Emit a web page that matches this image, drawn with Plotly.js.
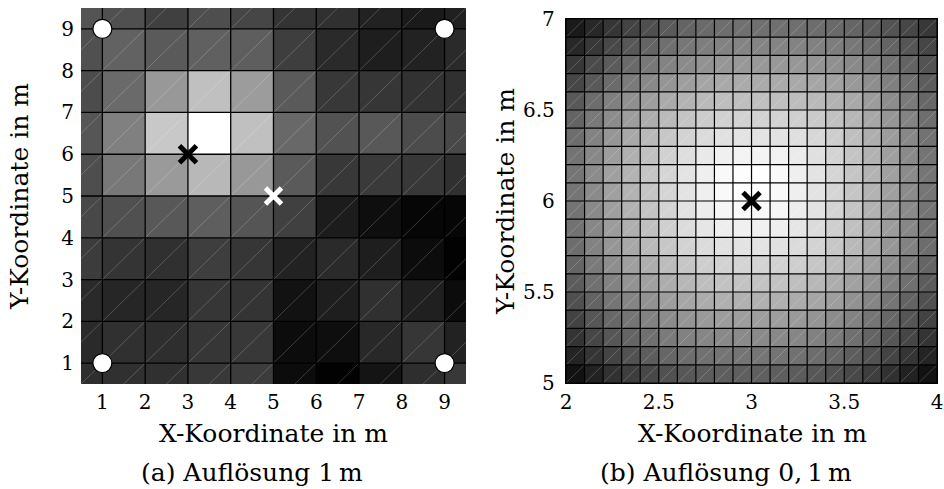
<!DOCTYPE html>
<html>
<head>
<meta charset="utf-8">
<script src="https://cdn.plot.ly/plotly-3.0.1.min.js"></script>
<style>html,body{margin:0;padding:0;background:#fff;}#chart{width:944px;height:489px;}</style>
</head>
<body>
<div id="chart"></div>
<script>
// ---------- data: panel (a) 1 m resolution ----------
const xEdgesA = [0, 1, 2, 3, 4, 5, 6, 7, 8, 9, 10];
const yEdgesA = [0, 1, 2, 3, 4, 5, 6, 7, 8, 9, 10];
// grey level per cell, rows from bottom (y 0-1) to top (y 9-10)
const gridA = [
  [46, 48, 48, 56, 60, 12, 2, 20, 46, 56],
  [42, 48, 46, 54, 56, 12, 14, 40, 54, 34],
  [42, 38, 38, 54, 52, 18, 30, 48, 32, 12],
  [60, 52, 48, 62, 54, 34, 42, 30, 12, 2],
  [72, 80, 88, 94, 85, 64, 28, 14, 6, 6],
  [78, 120, 154, 184, 152, 90, 56, 58, 56, 48],
  [86, 128, 200, 255, 192, 104, 82, 88, 76, 72],
  [76, 106, 152, 192, 156, 90, 56, 54, 50, 48],
  [80, 98, 90, 96, 94, 62, 42, 30, 34, 42],
  [84, 80, 64, 78, 70, 52, 48, 34, 26, 32]
];
const ticksA = [1, 2, 3, 4, 5, 6, 7, 8, 9];
const anchorX = [1, 1, 9, 9];
const anchorY = [1, 9, 1, 9];
const trueX = [3];
const trueY = [6];
const estX = [5];
const estY = [5];

// ---------- data: panel (b) 0.1 m resolution ----------
const xEdgesB = [2.0, 2.1, 2.2, 2.3, 2.4, 2.5, 2.6, 2.7, 2.8, 2.9, 3.0, 3.1, 3.2, 3.3, 3.4, 3.5, 3.6, 3.7, 3.8, 3.9, 4.0];
const yEdgesB = [5.0, 5.1, 5.2, 5.3, 5.4, 5.5, 5.6, 5.7, 5.8, 5.9, 6.0, 6.1, 6.2, 6.3, 6.4, 6.5, 6.6, 6.7, 6.8, 6.9, 7.0];
const gridB = [
  [18, 34, 49, 62, 72, 81, 87, 92, 94, 95, 95, 94, 92, 87, 81, 72, 62, 49, 34, 18],
  [36, 53, 68, 82, 93, 102, 109, 113, 116, 117, 117, 116, 113, 109, 102, 93, 82, 68, 53, 36],
  [52, 70, 86, 100, 112, 122, 129, 134, 137, 138, 138, 137, 134, 129, 122, 112, 100, 86, 70, 52],
  [67, 86, 103, 117, 130, 140, 148, 154, 157, 158, 158, 157, 154, 148, 140, 130, 117, 103, 86, 67],
  [80, 99, 117, 133, 146, 158, 166, 172, 176, 177, 177, 176, 172, 166, 158, 146, 133, 117, 99, 80],
  [92, 112, 130, 147, 161, 173, 183, 190, 194, 195, 195, 194, 190, 183, 173, 161, 147, 130, 112, 92],
  [101, 122, 142, 159, 174, 188, 198, 206, 210, 212, 212, 210, 206, 198, 188, 174, 159, 142, 122, 101],
  [109, 130, 150, 168, 185, 199, 211, 219, 225, 227, 227, 225, 219, 211, 199, 185, 168, 150, 130, 109],
  [114, 135, 156, 175, 192, 207, 220, 230, 238, 240, 240, 238, 230, 220, 207, 192, 175, 156, 135, 114],
  [116, 138, 159, 178, 196, 212, 226, 237, 246, 250, 250, 246, 237, 226, 212, 196, 178, 159, 138, 116],
  [117, 139, 160, 179, 197, 213, 227, 239, 249, 254, 254, 249, 239, 227, 213, 197, 179, 160, 139, 117],
  [117, 139, 160, 179, 197, 213, 227, 239, 249, 253, 254, 249, 239, 227, 213, 197, 179, 160, 139, 117],
  [115, 136, 157, 176, 193, 209, 222, 233, 240, 243, 243, 242, 235, 224, 211, 196, 178, 159, 138, 116],
  [109, 130, 150, 168, 185, 199, 211, 219, 225, 227, 227, 226, 223, 215, 205, 191, 174, 156, 136, 114],
  [100, 121, 140, 157, 173, 186, 196, 204, 209, 210, 210, 210, 207, 202, 193, 182, 167, 150, 131, 110],
  [89, 109, 128, 144, 158, 170, 179, 186, 190, 191, 191, 191, 189, 185, 178, 169, 156, 140, 122, 103],
  [70, 89, 107, 123, 137, 149, 158, 165, 169, 171, 171, 171, 169, 166, 161, 153, 142, 128, 112, 93],
  [56, 74, 91, 106, 120, 131, 139, 146, 150, 152, 152, 152, 151, 148, 144, 137, 127, 115, 100, 83],
  [40, 56, 72, 87, 100, 111, 119, 126, 130, 132, 132, 132, 131, 129, 125, 119, 110, 100, 86, 70],
  [26, 40, 54, 67, 79, 90, 100, 106, 110, 112, 112, 112, 111, 109, 106, 101, 93, 83, 71, 56]
];
const ticksXB = [2, 2.5, 3, 3.5, 4];
const ticksYB = [5, 5.5, 6, 6.5, 7];
const trueXB = [3];
const trueYB = [6];

// ---------- helpers (derive decoration lines from the cell edges) ----------
function cellDiagonals(xe, ye) {
  const x = [], y = [];
  for (let j = 0; j < ye.length - 1; j++) {
    for (let i = 0; i < xe.length - 1; i++) {
      x.push(xe[i], xe[i + 1], null);
      y.push(ye[j], ye[j + 1], null);
    }
  }
  return {x, y};
}
function cellBorders(xe, ye) {
  const x = [], y = [];
  const y0 = ye[0], y1 = ye[ye.length - 1], x0 = xe[0], x1 = xe[xe.length - 1];
  xe.forEach(v => { x.push(v, v, null); y.push(y0, y1, null); });
  ye.forEach(v => { x.push(x0, x1, null); y.push(v, v, null); });
  return {x, y};
}

const FONT = '"DejaVu Serif", "Liberation Serif", serif';
const grey = [[0, '#000000'], [1, '#ffffff']];

const dA = cellDiagonals(xEdgesA, yEdgesA);
const bA = cellBorders(xEdgesA, yEdgesA);
const dB = cellDiagonals(xEdgesB, yEdgesB);
const bB = cellBorders(xEdgesB, yEdgesB);

const diagStyle = {color: 'rgba(255,255,255,0.25)', width: 0.8};
const borderStyle = {color: '#000000', width: 1.3};

const traces = [
  {type: 'heatmap', x: xEdgesA, y: yEdgesA, z: gridA, colorscale: grey, zmin: 0, zmax: 255,
   showscale: false, hoverinfo: 'skip', xaxis: 'x', yaxis: 'y'},
  {type: 'scatter', mode: 'lines', x: dA.x, y: dA.y, line: diagStyle, hoverinfo: 'skip', xaxis: 'x', yaxis: 'y'},
  {type: 'scatter', mode: 'lines', x: bA.x, y: bA.y, line: borderStyle, hoverinfo: 'skip', xaxis: 'x', yaxis: 'y'},
  {type: 'scatter', mode: 'markers', x: anchorX, y: anchorY, cliponaxis: false,
   marker: {symbol: 'circle', size: 19, color: '#ffffff', line: {color: '#000000', width: 1.2}},
   hoverinfo: 'skip', xaxis: 'x', yaxis: 'y'},
  {type: 'scatter', mode: 'markers', x: trueX, y: trueY,
   marker: {symbol: 'x-thin', size: 17, color: '#000000', line: {color: '#000000', width: 5}},
   hoverinfo: 'skip', xaxis: 'x', yaxis: 'y'},
  {type: 'scatter', mode: 'markers', x: estX, y: estY,
   marker: {symbol: 'x-thin', size: 16, color: '#ffffff', line: {color: '#ffffff', width: 5}},
   hoverinfo: 'skip', xaxis: 'x', yaxis: 'y'},

  {type: 'heatmap', x: xEdgesB, y: yEdgesB, z: gridB, colorscale: grey, zmin: 0, zmax: 255,
   showscale: false, hoverinfo: 'skip', xaxis: 'x2', yaxis: 'y2'},
  {type: 'scatter', mode: 'lines', x: dB.x, y: dB.y, line: diagStyle, hoverinfo: 'skip', xaxis: 'x2', yaxis: 'y2'},
  {type: 'scatter', mode: 'lines', x: bB.x, y: bB.y, line: {color: '#000000', width: 1.2}, hoverinfo: 'skip', xaxis: 'x2', yaxis: 'y2'},
  {type: 'scatter', mode: 'markers', x: trueXB, y: trueYB,
   marker: {symbol: 'x-thin', size: 17, color: '#000000', line: {color: '#000000', width: 5}},
   hoverinfo: 'skip', xaxis: 'x2', yaxis: 'y2'}
];

const tickFont = {family: FONT, size: 20, color: '#000'};
const titleFont = {family: FONT, size: 25, color: '#000'};
const axBase = {showgrid: false, zeroline: false, ticks: '', showline: false, tickfont: tickFont,
                fixedrange: true, automargin: false};

const layout = {
  width: 944, height: 489,
  margin: {l: 0, r: 0, t: 0, b: 0},
  paper_bgcolor: '#ffffff', plot_bgcolor: '#ffffff',
  showlegend: false,
  font: {family: FONT, color: '#000'},
  xaxis: Object.assign({}, axBase, {domain: [0.0858, 0.4936], range: [0.5, 9.5], anchor: 'y',
    tickmode: 'array', tickvals: ticksA, ticktext: ticksA.map(String), ticklabelstandoff: 4}),
  yaxis: Object.assign({}, axBase, {domain: [0.2147, 0.9836], range: [0.5, 9.5], anchor: 'x',
    tickmode: 'array', tickvals: ticksA, ticktext: ticksA.map(String), ticklabelstandoff: 6,
    title: {text: 'Y-Koordinate in m', font: titleFont, standoff: 25}}),
  xaxis2: Object.assign({}, axBase, {domain: [0.5996, 0.9926], range: [2, 4], anchor: 'y2',
    showline: true, mirror: true, linecolor: '#000', linewidth: 1.2,
    tickmode: 'array', tickvals: ticksXB, ticktext: ['2', '2.5', '3', '3.5', '4'], ticklabelstandoff: 1}),
  yaxis2: Object.assign({}, axBase, {domain: [0.2168, 0.9611], range: [5, 7], anchor: 'x2',
    showline: true, mirror: true, linecolor: '#000', linewidth: 1.2,
    tickmode: 'array', tickvals: ticksYB, ticktext: ['5', '5.5', '6', '6.5', '7'], ticklabelstandoff: 6,
    title: {text: 'Y-Koordinate in m', font: titleFont, standoff: 1}}),
  annotations: [
    {text: 'X-Koordinate in m', xref: 'paper', yref: 'paper', x: 273 / 944, y: 1 - 433 / 489,
     xanchor: 'center', yanchor: 'middle', showarrow: false, font: titleFont},
    {text: 'X-Koordinate in m', xref: 'paper', yref: 'paper', x: 752 / 944, y: 1 - 433 / 489,
     xanchor: 'center', yanchor: 'middle', showarrow: false, font: titleFont},
    {text: '(a) Auflösung 1\u2009m', xref: 'paper', yref: 'paper', x: 252 / 944, y: 0,
     xanchor: 'center', yanchor: 'bottom', showarrow: false, font: titleFont},
    {text: '(b) Auflösung 0,\u20091\u2009m', xref: 'paper', yref: 'paper', x: 726 / 944, y: 0,
     xanchor: 'center', yanchor: 'bottom', showarrow: false, font: titleFont}
  ]
};

Plotly.newPlot('chart', traces, layout, {staticPlot: true, displayModeBar: false});
</script>
</body>
</html>
